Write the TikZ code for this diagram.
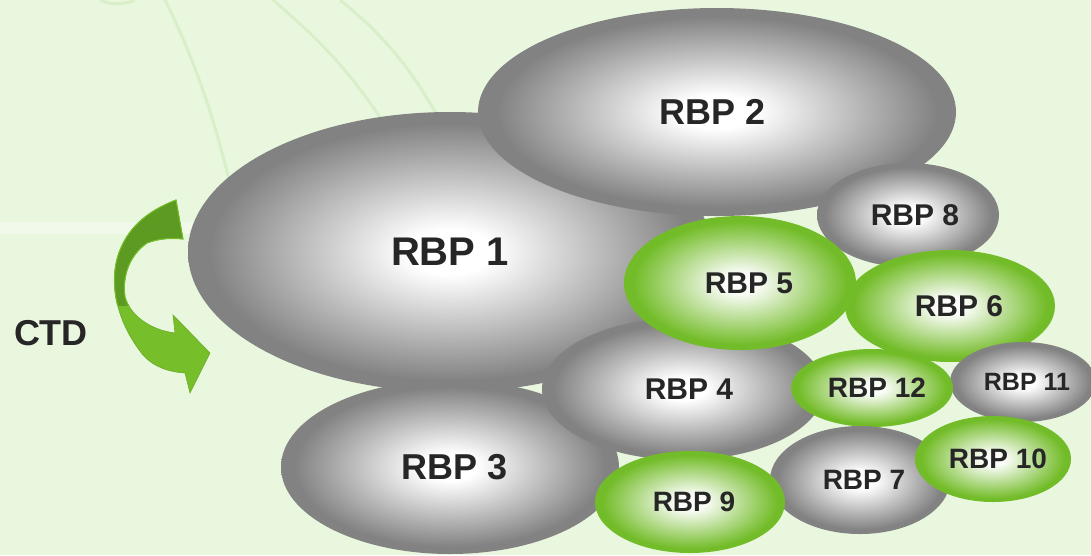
\documentclass[tikz,border=0pt]{standalone}
\usepackage{fontspec}
\setmainfont{Liberation Sans}
\usetikzlibrary{shapes.geometric}
\definecolor{bgc}{HTML}{EAF7DF}
\definecolor{wmc}{HTML}{D9EFCA}
\definecolor{rgray}{HTML}{828282}
\definecolor{rgreen}{HTML}{73BC29}
\definecolor{txtc}{HTML}{262626}
\definecolor{arrdark}{HTML}{5C9A22}
\definecolor{arrlight}{HTML}{76BE2A}
\pgfdeclareradialshading{grayball}{\pgfpoint{0bp}{0bp}}{color(0bp)=(white); color(4bp)=(white); color(23bp)=(rgray); color(50bp)=(rgray)}
\pgfdeclareradialshading{greenball}{\pgfpoint{0bp}{0bp}}{color(0bp)=(white); color(4bp)=(white!96!rgreen); color(23bp)=(rgreen); color(50bp)=(rgreen)}
\newcommand{\shft}[2]{\hspace*{#1pt}#2}
\tikzset{
  rbp/.style={ellipse, inner sep=0pt, text=txtc, font=\bfseries\fontsize{#1}{#1}\selectfont},
  grayel/.style={rbp=#1, shading=grayball},
  greenel/.style={rbp=#1, shading=greenball},
  wm/.style={draw=wmc, line width=3pt}
}
\begin{document}
\begin{tikzpicture}[x=1pt,y=-1pt]
\useasboundingbox (0,0) rectangle (1091,555);
\fill[bgc] (0,0) rectangle (1091,555);
% faint watermark
\fill[white, opacity=0.35] (0,222) rectangle (200,234);
\draw[wm] (165,0) .. controls (195,60) and (220,130) .. (240,230);
\draw[wm] (273,0) .. controls (320,40) and (360,80) .. (400,150);
\draw[wm] (340,0) .. controls (390,40) and (420,80) .. (450,140);
\draw[wm] (100,0) .. controls (110,5) and (125,5) .. (135,0);
% CTD arrow
\path[fill=arrlight, draw=arrlight!90!black, line width=0.6pt]
  (176,200) .. controls (150,210) and (130,225) .. (120,250)
  .. controls (108,280) and (115,320) .. (143,355)
  .. controls (155,368) and (170,372) .. (185,373)
  -- (190,393) -- (210,353) -- (173,315) -- (175,333)
  .. controls (150,330) and (130,315) .. (125,297)
  .. controls (122,275) and (130,255) .. (147,243)
  .. controls (160,238) and (172,238) .. (183,239) -- cycle;
\begin{scope}
\clip (0,0) rectangle (230,305);
\path[fill=arrdark, draw=arrlight, line width=1pt]
  (176,200) .. controls (150,210) and (130,225) .. (120,250)
  .. controls (108,280) and (115,320) .. (143,355)
  .. controls (155,368) and (170,372) .. (185,373)
  -- (190,393) -- (210,353) -- (173,315) -- (175,333)
  .. controls (150,330) and (130,315) .. (125,297)
  .. controls (122,275) and (130,255) .. (147,243)
  .. controls (160,238) and (172,238) .. (183,239) -- cycle;
\end{scope}
\node[text=txtc, font=\bfseries\fontsize{36}{36}\selectfont] (ctd) at (51,333) {CTD};
% ellipses, back to front
\node[grayel=40, minimum width=524pt, minimum height=280pt] (r1) at (450,252) {RBP 1};
\node[grayel=36, minimum width=338pt, minimum height=174pt] (r3) at (450,467) {\shft{10}{RBP 3}};
\node[grayel=36, minimum width=478pt, minimum height=208pt] (r2) at (717,112) {\shft{-8}{RBP 2}};
\node[grayel=30, minimum width=182pt, minimum height=104pt] (r8) at (908,215) {\shft{14}{RBP 8}};
\node[grayel=30, minimum width=282pt, minimum height=142pt] (r4) at (683,389) {\shft{12}{RBP 4}};
\node[greenel=30, minimum width=232pt, minimum height=134pt] (r5) at (740,283) {\shft{18}{RBP 5}};
\node[greenel=30, minimum width=210pt, minimum height=112pt] (r6) at (950,306) {\shft{18}{RBP 6}};
\node[grayel=25, minimum width=146pt, minimum height=80pt] (r11) at (1023,382) {\shft{8}{RBP 11}};
\node[greenel=28, minimum width=162pt, minimum height=78pt] (r12) at (872,388) {\shft{10}{RBP 12}};
\node[grayel=28, minimum width=180pt, minimum height=108pt] (r7) at (860,480) {\shft{8}{RBP 7}};
\node[greenel=28, minimum width=190pt, minimum height=102pt] (r9) at (690,502) {\shft{8}{RBP 9}};
\node[greenel=28, minimum width=156pt, minimum height=86pt] (r10) at (993,459) {\shft{10}{RBP 10}};
\end{tikzpicture}
\end{document}
